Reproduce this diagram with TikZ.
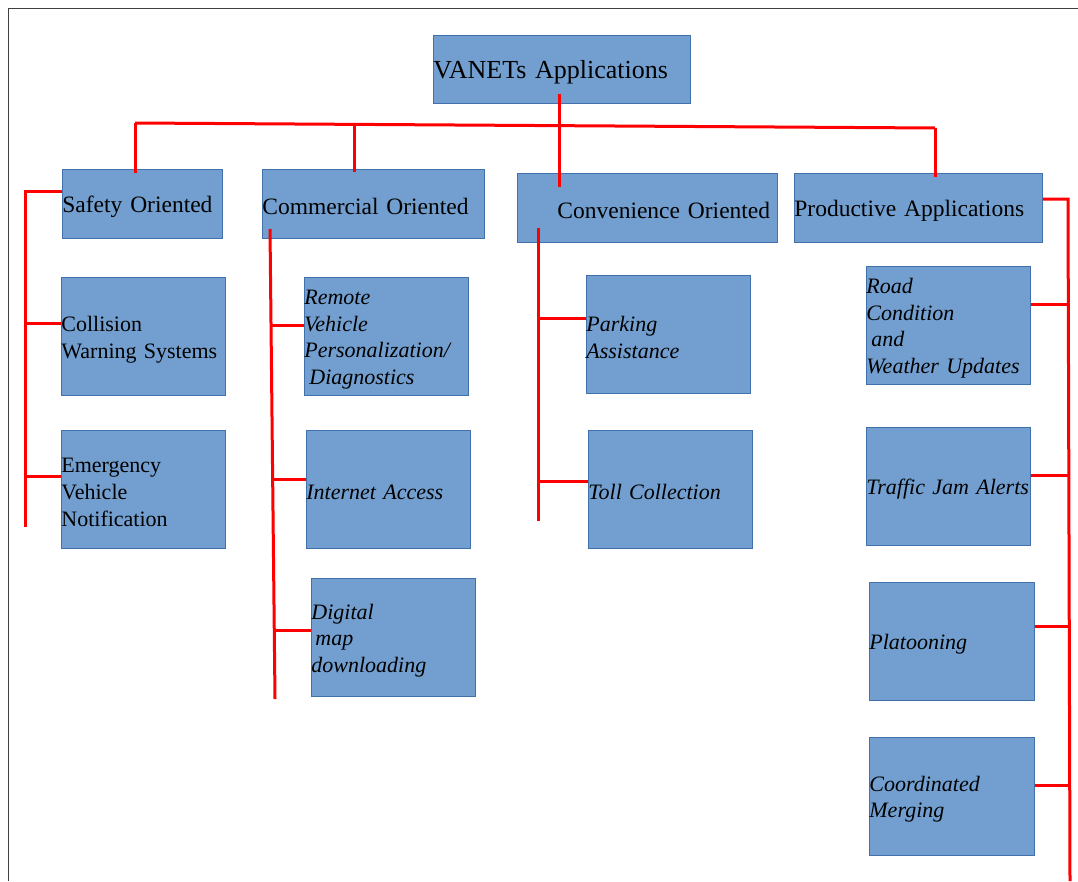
\documentclass[tikz,border=0pt]{standalone}
\usepackage{fontspec}
\setmainfont{Liberation Serif}
\usetikzlibrary{calc}
\definecolor{boxfill}{RGB}{114,159,207}
\definecolor{boxline}{RGB}{65,113,170}
\definecolor{wire}{RGB}{255,0,0}
\newcommand\lft[1]{\rule{0pt}{#1}}
\begin{document}
\begin{tikzpicture}[x=1pt,y=-1pt,
  box/.style={draw=boxline,fill=boxfill,line width=0.8pt,inner sep=0pt,anchor=north west,align=left},
  bx/.style 2 args={minimum width=#1pt,text width=#1pt,minimum height=#2pt},
  rootfont/.style={font=\fontsize{26}{31}\selectfont},
  lone/.style={font=\fontsize{23.5}{28}\selectfont},
  ltwo/.style={font=\fontsize{22}{27}\selectfont},
  lit/.style={font=\fontsize{22}{26.5}\selectfont\itshape},
  wirestyle/.style={draw=wire,line width=3pt}]
\useasboundingbox (0,0) rectangle (1078,881);
\fill[white] (0,0) rectangle (1078,881);
\draw[black!75,line width=1pt] (1078,8.5) -- (8.5,8.5) -- (8.5,881);

% root
\node[box,bx={257}{68},rootfont] (root) at (433,35) {\lft{24pt}VANETs Applications};
% level one
\node[box,bx={160}{69},lone] (safety) at (62,169) {\lft{22pt}Safety Oriented};
\node[box,bx={222}{69},lone] (comm) at (262,169) {\lft{22pt}Commercial Oriented};
\node[box,bx={260}{69},lone] (conv) at (517,173) {\lft{22pt}\hspace*{40pt}Convenience Oriented};
\node[box,bx={248}{69},lone] (prod) at (794,173) {\lft{22pt}Productive Applications};
% safety children
\node[box,bx={164}{118},ltwo] (coll) at (61,277) {\lft{21pt}Collision\\Warning Systems};
\node[box,bx={164}{118},ltwo] (emerg) at (61,430) {\lft{21pt}Emergency\\Vehicle\\Notification};
% commercial children
\node[box,bx={164}{118},lit] (remote) at (304,277) {\lft{21pt}Remote\\Vehicle\\Personalization/\\\hspace*{5pt}Diagnostics};
\node[box,bx={164}{118},lit] (inet) at (306,430) {\lft{21pt}Internet Access};
\node[box,bx={164}{118},lit] (dmap) at (311,578) {\lft{21pt}Digital\\\hspace*{4pt}map\\downloading};
% convenience children
\node[box,bx={164}{118},lit] (park) at (586,275) {\lft{21pt}Parking\\Assistance};
\node[box,bx={164}{118},lit] (toll) at (588,430) {\lft{21pt}Toll Collection};
% productive children
\node[box,bx={164}{118},lit] (road) at (866,266) {\lft{21pt}Road\\Condition\\\hspace*{5pt}and\\Weather Updates};
\node[box,bx={164}{118},lit] (jam) at (866,427) {\lft{21pt}Traffic Jam Alerts};
\node[box,bx={165}{118},lit] (plat) at (869,582) {\lft{21pt}Platooning};
\node[box,bx={165}{118},lit] (merge) at (869,737) {\lft{21pt}Coordinated\\Merging};

% bus
\coordinate (busL) at (135,123);
\coordinate (busC) at (354,124.4);
\coordinate (busR) at (935,128);
\coordinate (rootTap) at (559,94);
\draw[wirestyle] (busL) -- (busR);
\draw[wirestyle] (rootTap) -- ($(conv.north -| rootTap)+(0,14)$);
\draw[wirestyle] (busL) -- ($(safety.north -| busL)+(0,4)$);
\draw[wirestyle] (busC) -- ($(comm.north -| busC)+(0,3)$);
\draw[wirestyle] (busR) -- ($(prod.north -| busR)+(0,4)$);

% safety bracket
\coordinate (sTop) at (25,191);
\coordinate (sEnd) at (25,527);
\coordinate (s1) at (25,323);
\coordinate (s2) at (25,476);
\draw[wirestyle] (safety.west |- sTop) -- (sTop) -- (sEnd);
\draw[wirestyle] (s1) -- (coll.west |- s1);
\draw[wirestyle] (s2) -- (emerg.west |- s2);

% commercial trunk
\coordinate (cTop) at (270,229);
\coordinate (cEnd) at (275,699);
\coordinate (c1) at (271.3,325);
\coordinate (c2) at (272.9,479);
\coordinate (c3) at (274.3,630);
\draw[wirestyle] (cTop) -- (cEnd);
\draw[wirestyle] (c1) -- (remote.west |- c1);
\draw[wirestyle] (c2) -- (inet.west |- c2);
\draw[wirestyle] (c3) -- (dmap.west |- c3);

% convenience trunk
\coordinate (vTop) at (538,228);
\coordinate (vEnd) at (538,521);
\coordinate (v1) at (538,318);
\coordinate (v2) at (538,481);
\draw[wirestyle] (vTop) -- (vEnd);
\draw[wirestyle] (v1) -- (park.west |- v1);
\draw[wirestyle] (v2) -- (toll.west |- v2);

% productive trunk
\coordinate (pTop) at (1068,199);
\coordinate (pEnd) at (1070,881);
\coordinate (p1) at (1068.3,304);
\coordinate (p2) at (1068.8,475);
\coordinate (p3) at (1069.3,626);
\coordinate (p4) at (1069.7,785);
\draw[wirestyle] (prod.east |- pTop) -- (pTop) -- (pEnd);
\draw[wirestyle] (p1) -- (road.east |- p1);
\draw[wirestyle] (p2) -- (jam.east |- p2);
\draw[wirestyle] (p3) -- (plat.east |- p3);
\draw[wirestyle] (p4) -- (merge.east |- p4);
\end{tikzpicture}
\end{document}
